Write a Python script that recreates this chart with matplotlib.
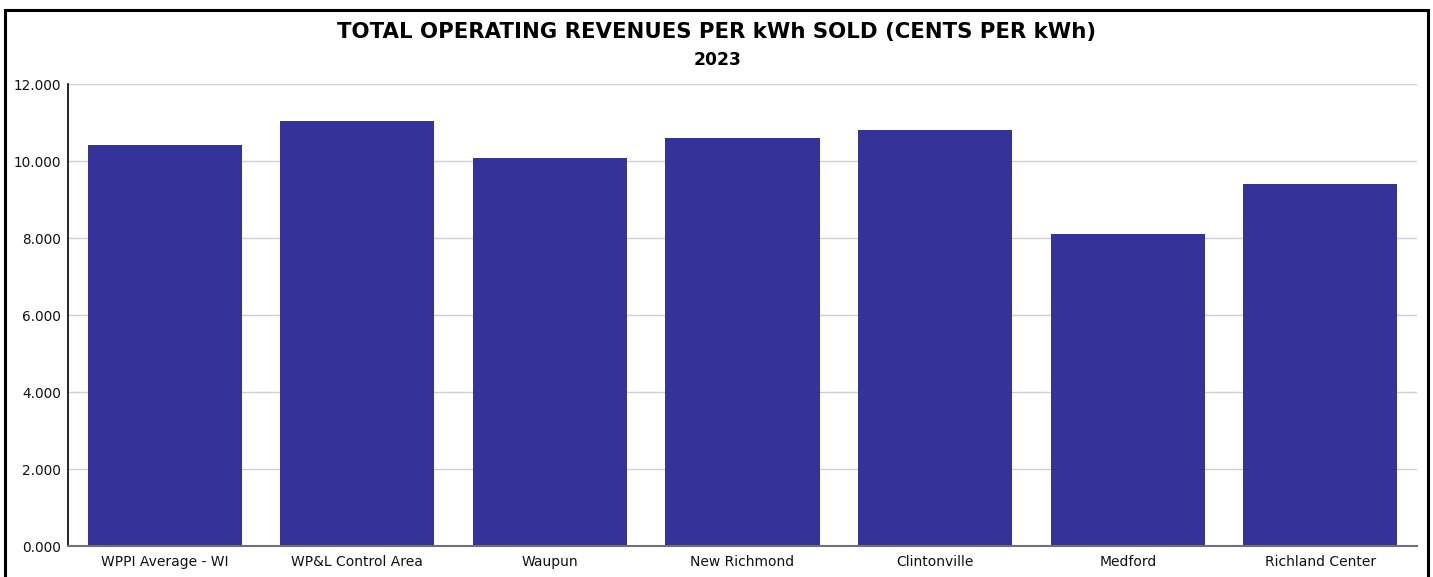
import matplotlib.pyplot as plt
from matplotlib.patches import Rectangle
from matplotlib.ticker import FormatStrFormatter

categories = ['WPPI Average - WI', 'WP&L Control Area', 'Waupun', 'New Richmond',
              'Clintonville', 'Medford', 'Richland Center']
cents_per_kwh = [10.42, 11.05, 10.09, 10.61, 10.81, 8.11, 9.41]
yticks = [0, 2, 4, 6, 8, 10, 12]

BAR = '#333399'

fig = plt.figure(figsize=(14.33, 5.77), dpi=100)
ax = fig.add_axes([68.3/1433, 1 - 546.3/577, 1348.4/1433, (546.3 - 84.3)/577])

x = range(len(categories))
ax.bar(x, cents_per_kwh, width=0.8, color=BAR, zorder=2)

ax.set_xlim(-0.5, len(categories) - 0.5)
ax.set_ylim(0, 12)
ax.set_yticks(yticks)
ax.yaxis.set_major_formatter(FormatStrFormatter('%.3f'))
ax.set_xticks(list(x))
ax.set_xticklabels(categories, fontsize=10)
ax.tick_params(axis='y', labelsize=9.8, length=0, pad=5, labelcolor='#111111')
ax.tick_params(axis='x', length=0, pad=6, labelcolor='#111111')

ax.grid(axis='y', color='#d0d0d0', linewidth=1, zorder=0)
ax.set_axisbelow(True)
for s in ['top', 'right']:
    ax.spines[s].set_visible(False)
ax.spines['left'].set_color('black')
ax.spines['left'].set_linewidth(1.2)
ax.spines['bottom'].set_color('#707070')
ax.spines['bottom'].set_linewidth(1.5)

# titles
fig.text(0.5, 1 - 32/577, 'TOTAL OPERATING REVENUES PER kWh SOLD (CENTS PER kWh)',
         ha='center', va='center', fontsize=15.3, fontweight='bold')
fig.text(718/1433, 1 - 60/577, '2023', ha='center', va='center', fontsize=12.3, fontweight='bold')

# outer frame
fig.patches.append(Rectangle((5/1433, -0.05), 1423/1433, 1 - 10/577 + 0.05,
                             transform=fig.transFigure, fill=False,
                             edgecolor='black', linewidth=2.2))

fig.savefig('out.png', dpi=100)
